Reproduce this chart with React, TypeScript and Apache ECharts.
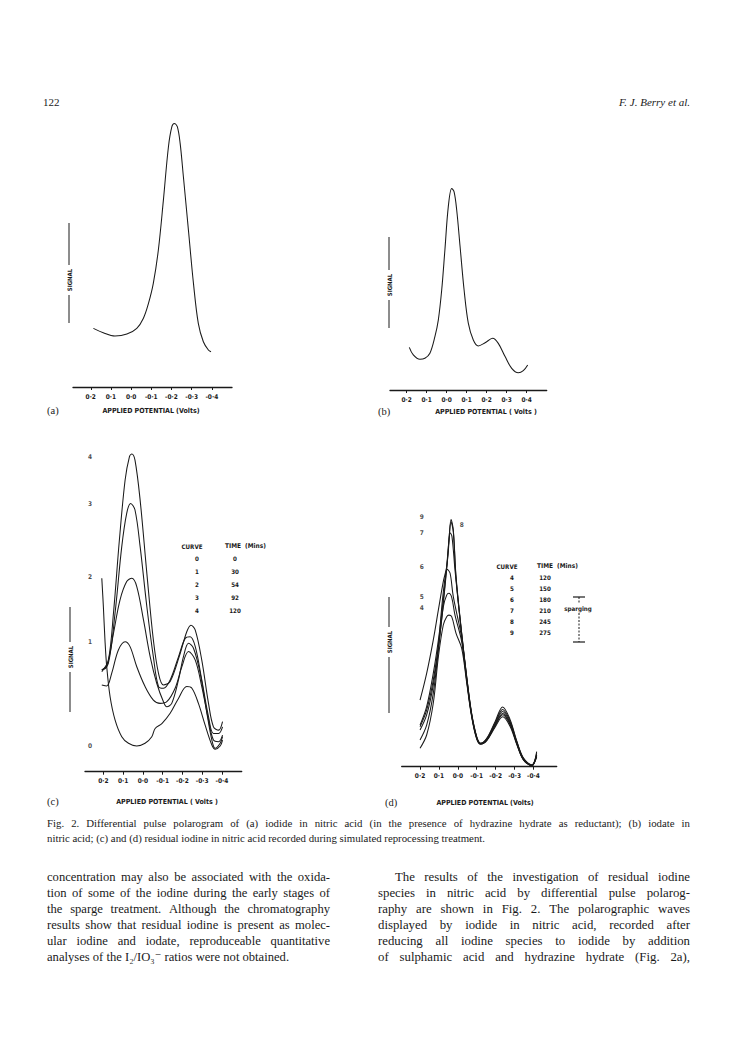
import React, { useEffect, useRef } from "react";
import * as echarts from "echarts";

// ---------------- data ----------------
const potentialTicks = [0.2, 0.1, 0, -0.1, -0.2, -0.3, -0.4];
const tickLabelsNeg = ["0·2", "0·1", "0·0", "-0·1", "-0·2", "-0·3", "-0·4"];
const tickLabelsB = ["0·2", "0·1", "0·0", "0·1", "0·2", "0·3", "0·4"];

// (a) iodide in nitric acid
const curveA = [
  [0.187, 2.14], [0.138, 1.98], [0.08, 1.86], [0.021, 1.93], [-0.028, 2.14],
  [-0.061, 2.51], [-0.086, 3.05], [-0.11, 3.78], [-0.135, 5.0], [-0.16, 6.82],
  [-0.185, 8.77], [-0.202, 9.5], [-0.214, 9.62], [-0.229, 9.5], [-0.243, 8.89],
  [-0.259, 7.68], [-0.284, 5.73], [-0.309, 3.78], [-0.333, 2.32], [-0.358, 1.65],
  [-0.383, 1.35], [-0.396, 1.29],
];

// (b) iodate in nitric acid
const curveB = [
  [0.187, 2.03], [0.167, 1.67], [0.134, 1.46], [0.109, 1.51], [0.084, 1.75],
  [0.059, 2.54], [0.042, 3.33], [0.025, 4.76], [0.009, 6.67], [-0.008, 8.73],
  [-0.025, 9.6], [-0.037, 9.44], [-0.05, 8.57], [-0.067, 6.82], [-0.087, 4.76],
  [-0.108, 3.18], [-0.133, 2.38], [-0.158, 2.1], [-0.192, 2.25], [-0.23, 2.46],
  [-0.258, 2.22], [-0.292, 1.59], [-0.325, 1.03], [-0.358, 0.82], [-0.383, 0.92],
  [-0.405, 1.19],
];

// (c) curves 0-4
const curveC0 = [
  [0.208, 5.86], [0.2, 5.0], [0.192, 3.99], [0.183, 3.18], [0.166, 2.27],
  [0.141, 1.57], [0.107, 1.06], [0.073, 0.86], [0.031, 0.78], [-0.011, 0.86],
  [-0.045, 1.06], [-0.062, 1.31], [-0.096, 1.46], [-0.138, 1.77], [-0.18, 2.22],
  [-0.222, 2.58], [-0.248, 2.53], [-0.281, 2.07], [-0.315, 1.41], [-0.349, 0.81],
  [-0.366, 0.68], [-0.391, 0.78], [-0.403, 0.96],
];
const curveC1 = [
  [0.208, 2.63], [0.183, 2.6], [0.158, 2.98], [0.124, 3.69], [0.09, 3.94],
  [0.065, 3.79], [0.031, 3.18], [-0.011, 2.58], [-0.053, 2.17], [-0.087, 2.07],
  [-0.121, 2.12], [-0.163, 2.53], [-0.197, 3.18], [-0.231, 3.64], [-0.265, 3.38],
  [-0.298, 2.58], [-0.332, 1.57], [-0.357, 0.96], [-0.383, 0.91], [-0.403, 1.11],
];
const curveC2 = [
  [0.208, 3.08], [0.183, 3.18], [0.149, 4.19], [0.116, 5.2], [0.082, 5.76],
  [0.056, 5.86], [0.031, 5.61], [-0.003, 4.6], [-0.037, 3.48], [-0.07, 2.68],
  [-0.104, 2.12], [-0.121, 1.97], [-0.146, 2.07], [-0.18, 2.78], [-0.205, 3.48],
  [-0.231, 3.89], [-0.256, 3.74], [-0.29, 2.98], [-0.324, 1.77], [-0.349, 0.96],
  [-0.366, 0.71], [-0.391, 0.86], [-0.403, 1.06],
];
const curveC3 = [
  [0.208, 3.08], [0.175, 3.28], [0.141, 4.8], [0.107, 6.82], [0.082, 7.83],
  [0.062, 8.13], [0.04, 7.93], [0.014, 6.82], [-0.02, 5.0], [-0.053, 3.48],
  [-0.079, 2.58], [-0.104, 2.53], [-0.138, 2.78], [-0.18, 3.48], [-0.214, 4.04],
  [-0.239, 4.09], [-0.265, 3.79], [-0.298, 2.78], [-0.332, 1.67], [-0.357, 1.16],
  [-0.383, 1.16], [-0.403, 1.36],
];
const curveC4 = [
  [0.208, 3.03], [0.175, 3.38], [0.149, 4.8], [0.119, 7.02], [0.09, 8.84],
  [0.068, 9.55], [0.056, 9.63], [0.04, 9.44], [0.014, 8.23], [-0.02, 6.01],
  [-0.053, 3.99], [-0.079, 2.98], [-0.104, 2.63], [-0.138, 2.73], [-0.189, 3.59],
  [-0.222, 4.24], [-0.243, 4.44], [-0.265, 4.29], [-0.298, 3.38], [-0.332, 2.07],
  [-0.357, 1.36], [-0.383, 1.26], [-0.403, 1.52],
];
const curveCLabelNames = ["4", "3", "2", "1", "0"];
const curveCLabelSignal = [9.55, 8.11, 5.89, 3.94, 0.78];
const curveCLabelPotential = 0.268;
const legendCCurve = ["0", "1", "2", "3", "4"];
const legendCTime = ["0", "30", "54", "92", "120"];

// (d) curves 4-9
const curveD9 = [
  [0.2, 2.56], [0.165, 3.59], [0.13, 4.87], [0.103, 6.03], [0.077, 7.12],
  [0.059, 7.69], [0.047, 8.72], [0.036, 9.51], [0.024, 9.1], [0.0095, 7.31],
  [-0.0205, 5.13], [-0.047, 3.46], [-0.073, 2.05], [-0.1, 1.15], [-0.121, 0.9],
  [-0.153, 1.09], [-0.197, 1.73], [-0.237, 2.3], [-0.276, 1.82], [-0.312, 0.98],
  [-0.347, 0.33], [-0.391, 0.06], [-0.417, 0.51],
];
const curveD8 = [
  [0.2, 1.6], [0.165, 2.31], [0.13, 3.59], [0.103, 4.87], [0.077, 6.41],
  [0.059, 7.69], [0.047, 8.72], [0.036, 9.41], [0.024, 9.04], [0.0095, 7.24],
  [-0.0205, 5.1], [-0.047, 3.44], [-0.073, 2.03], [-0.1, 1.14], [-0.121, 0.9],
  [-0.153, 1.07], [-0.197, 1.68], [-0.237, 2.2], [-0.276, 1.76], [-0.312, 0.96],
  [-0.347, 0.32], [-0.391, 0.07], [-0.417, 0.45],
];
const curveD7 = [
  [0.2, 1.54], [0.165, 2.18], [0.13, 3.33], [0.094, 5.13], [0.068, 6.92],
  [0.05, 8.33], [0.041, 9.0], [0.031, 8.85], [0.015, 7.56], [-0.0205, 5.05],
  [-0.047, 3.4], [-0.073, 2.0], [-0.1, 1.12], [-0.121, 0.89], [-0.153, 1.05],
  [-0.197, 1.64], [-0.237, 2.12], [-0.276, 1.7], [-0.312, 0.92], [-0.347, 0.3],
  [-0.391, 0.05], [-0.417, 0.4],
];
const curveD6 = [
  [0.2, 1.41], [0.165, 1.99], [0.13, 3.14], [0.103, 4.62], [0.085, 6.15],
  [0.068, 7.24], [0.056, 7.59], [0.041, 7.44], [0.024, 6.54], [-0.0205, 4.95],
  [-0.047, 3.35], [-0.073, 1.98], [-0.1, 1.1], [-0.121, 0.88], [-0.153, 1.03],
  [-0.197, 1.6], [-0.237, 2.05], [-0.276, 1.66], [-0.312, 0.9], [-0.347, 0.28],
  [-0.391, 0.04], [-0.417, 0.58],
];
const curveD5 = [
  [0.2, 1.03], [0.165, 1.6], [0.13, 2.82], [0.103, 4.49], [0.077, 6.15],
  [0.059, 6.6], [0.047, 6.67], [0.0325, 6.51], [0.015, 5.83], [-0.0205, 4.8],
  [-0.047, 3.3], [-0.073, 1.95], [-0.1, 1.08], [-0.121, 0.87], [-0.153, 1.02],
  [-0.197, 1.57], [-0.237, 2.0], [-0.276, 1.62], [-0.312, 0.88], [-0.347, 0.27],
  [-0.391, 0.05], [-0.417, 0.45],
];
const curveD4 = [
  [0.2, 0.71], [0.165, 1.22], [0.13, 2.44], [0.103, 4.23], [0.077, 5.45],
  [0.059, 5.77], [0.047, 5.83], [0.0325, 5.77], [0.0095, 5.13], [-0.0205, 4.55],
  [-0.047, 3.22], [-0.073, 1.92], [-0.1, 1.06], [-0.121, 0.86], [-0.153, 1.0],
  [-0.197, 1.52], [-0.237, 1.92], [-0.276, 1.56], [-0.312, 0.85], [-0.347, 0.26],
  [-0.391, 0.04], [-0.417, 0.38],
];
const curveDLabelNames = ["9", "7", "8", "6", "5", "4"];
const curveDLabelPos = [
  [0.191, 9.62], [0.191, 9.0], [-0.0205, 9.29], [0.191, 7.69], [0.191, 6.54], [0.191, 6.09],
];
const legendDCurve = ["4", "5", "6", "7", "8", "9"];
const legendDTime = ["120", "150", "180", "210", "245", "275"];

// page text
const headerLeft = "122";
const headerRight = "F. J. Berry et al.";
const captionLines = [
  "Fig. 2. Differential pulse polarogram of (a) iodide in nitric acid (in the presence of hydrazine hydrate as reductant); (b) iodate in",
  "nitric acid; (c) and (d) residual iodine in nitric acid recorded during simulated reprocessing treatment.",
];
const leftColumn = [
  "concentration may also be associated with the oxida-",
  "tion of some of the iodine during the early stages of",
  "the sparge treatment. Although the chromatography",
  "results show that residual iodine is present as molec-",
  "ular iodine and iodate, reproduceable quantitative",
  "analyses of the I\u2082/IO\u2083\u207B ratios were not obtained.",
];
const rightColumn = [
  "The results of the investigation of residual iodine",
  "species in nitric acid by differential pulse polarog-",
  "raphy are shown in Fig. 2. The polarographic waves",
  "displayed by iodide in nitric acid, recorded after",
  "reducing all iodine species to iodide by addition",
  "of sulphamic acid and hydrazine hydrate (Fig. 2a),",
];

// ---------------- styles ----------------
const INK = "#1a1a1a";
const SANS = "'DejaVu Sans Condensed', 'Liberation Sans Narrow', 'DejaVu Sans', sans-serif";
const SERIF = "'Liberation Serif', 'DejaVu Serif', serif";

const panels = [
  { grid: { left: 73, top: 113, width: 159, height: 274 }, min: -0.5, max: 0.288, labels: tickLabelsNeg },
  { grid: { left: 390, top: 180, width: 156.7, height: 210 }, min: -0.5, max: 0.2835, labels: tickLabelsB },
  { grid: { left: 85, top: 441.7, width: 156.7, height: 330 }, min: -0.5, max: 0.293, labels: tickLabelsNeg },
  { grid: { left: 401.7, top: 506.7, width: 155, height: 260 }, min: -0.523, max: 0.297, labels: tickLabelsNeg },
];

let measureCtx: CanvasRenderingContext2D | null = null;
function measure(text: string, font: string) {
  if (!measureCtx) measureCtx = document.createElement("canvas").getContext("2d");
  measureCtx!.font = font;
  return measureCtx!.measureText(text).width;
}

function txt(text: string, x: number, y: number, o: any = {}) {
  const style: any = {
    text,
    fill: o.fill || INK,
    fontSize: o.fontSize || 7,
    fontFamily: o.fontFamily || SANS,
    fontWeight: o.fontWeight || "normal",
    fontStyle: o.fontStyle || "normal",
    align: o.align || "left",
    verticalAlign: "middle",
    textAlign: o.align || "left",
    textVerticalAlign: "middle",
  };
  return { type: "text", x, y, rotation: o.rotation || 0, silent: true, style };
}

function line(x1: number, y1: number, x2: number, y2: number, o: any = {}) {
  return {
    type: "line",
    silent: true,
    shape: { x1, y1, x2, y2 },
    style: { stroke: INK, lineWidth: o.lineWidth || 1, lineDash: o.lineDash || null },
  };
}

function paragraphLine(text: string, x0: number, x1: number, y: number, size: number, justify: boolean) {
  const font = `${size}px ${SERIF}`;
  if (!justify) return [txt(text, x0, y, { fontSize: size, fontFamily: SERIF })];
  const words = text.split(" ");
  const widths = words.map((w) => measure(w, font));
  const total = widths.reduce((a, b) => a + b, 0);
  const gap = (x1 - x0 - total) / (words.length - 1);
  const out: any[] = [];
  let x = x0;
  words.forEach((w, i) => {
    out.push(txt(w, x, y, { fontSize: size, fontFamily: SERIF }));
    x += widths[i] + gap;
  });
  return out;
}

function signalLabel(x: number, y1: number, y2: number, yc: number) {
  return [
    line(x, y1, x, yc - 15),
    line(x, yc + 15, x, y2),
    txt("SIGNAL", x, yc, { rotation: Math.PI / 2, align: "center", fontSize: 6, fontWeight: "bold" }),
  ];
}

function buildOption() {
  const xAxis = panels.map((p, i) => ({
    type: "value",
    gridIndex: i,
    min: p.min,
    max: p.max,
    inverse: true,
    axisLine: { show: true, onZero: false, lineStyle: { color: INK, width: 1.3 } },
    axisTick: { show: true, customValues: potentialTicks, length: 3, lineStyle: { color: INK, width: 1 } },
    axisLabel: {
      show: true,
      customValues: potentialTicks,
      margin: 6,
      fontSize: 6.5,
      fontWeight: "bold",
      fontFamily: SANS,
      color: INK,
      formatter: (v: number) => {
        const idx = potentialTicks.findIndex((t) => Math.abs(t - v) < 1e-6);
        return idx >= 0 ? p.labels[idx] : "";
      },
    },
    splitLine: { show: false },
  }));
  const yAxis = panels.map((_, i) => ({ type: "value", gridIndex: i, min: 0, max: 10, show: false }));

  const curve = (data: number[][], idx: number) => ({
    type: "line",
    xAxisIndex: idx,
    yAxisIndex: idx,
    data,
    smooth: 0.35,
    symbol: "none",
    silent: true,
    lineStyle: { color: INK, width: 1.05 },
  });

  const labelSeries = (data: any[], idx: number) => ({
    type: "scatter",
    xAxisIndex: idx,
    yAxisIndex: idx,
    data,
    symbolSize: 1,
    silent: true,
    itemStyle: { color: "rgba(0,0,0,0)" },
    label: {
      show: true,
      position: "inside",
      formatter: "{b}",
      fontSize: 6.5,
      fontWeight: "bold",
      fontFamily: SANS,
      color: INK,
    },
  });

  const series: any[] = [
    curve(curveA, 0),
    curve(curveB, 1),
    curve(curveC0, 2),
    curve(curveC1, 2),
    curve(curveC2, 2),
    curve(curveC3, 2),
    curve(curveC4, 2),
    curve(curveD4, 3),
    curve(curveD5, 3),
    curve(curveD6, 3),
    curve(curveD7, 3),
    curve(curveD8, 3),
    curve(curveD9, 3),
    labelSeries(
      curveCLabelNames.map((n, i) => ({ name: n, value: [curveCLabelPotential, curveCLabelSignal[i]] })),
      2
    ),
    labelSeries(curveDLabelNames.map((n, i) => ({ name: n, value: curveDLabelPos[i] })), 3),
  ];

  const g: any[] = [];
  // header
  g.push(txt(headerLeft, 43, 102, { fontSize: 11, fontFamily: SERIF }));
  g.push(txt(headerRight, 690, 102, { fontSize: 11, fontFamily: SERIF, fontStyle: "italic", align: "right" }));

  // panel captions
  const panelText = [
    { tag: "(a)", tx: 47, label: "APPLIED POTENTIAL (Volts)", lx: 151, y: 410 },
    { tag: "(b)", tx: 378, label: "APPLIED POTENTIAL ( Volts )", lx: 486, y: 411 },
    { tag: "(c)", tx: 47, label: "APPLIED POTENTIAL ( Volts )", lx: 167, y: 801 },
    { tag: "(d)", tx: 385, label: "APPLIED POTENTIAL (Volts)", lx: 485, y: 802 },
  ];
  panelText.forEach((p) => {
    g.push(txt(p.tag, p.tx, p.y, { fontSize: 10.5, fontFamily: SERIF }));
    g.push(txt(p.label, p.lx, p.y + 1, { fontSize: 7, fontWeight: "bold", align: "center" }));
  });

  // SIGNAL labels
  g.push(...signalLabel(69, 223, 323, 280));
  g.push(...signalLabel(389, 237, 328, 285));
  g.push(...signalLabel(70, 607, 712, 657));
  g.push(...signalLabel(389, 597, 713, 642));

  // legend (c)
  g.push(txt("CURVE", 192, 546, { fontSize: 6.2, fontWeight: "bold", align: "center" }));
  g.push(txt("TIME  (Mins)", 225, 546, { fontSize: 6.5, fontWeight: "bold" }));
  legendCCurve.forEach((c, i) => {
    const y = 558 + 13 * i;
    g.push(txt(c, 197, y, { fontSize: 6.2, fontWeight: "bold", align: "center" }));
    g.push(txt(legendCTime[i], 235, y, { fontSize: 6.2, fontWeight: "bold", align: "center" }));
  });

  // legend (d)
  g.push(txt("CURVE", 507, 566, { fontSize: 6.2, fontWeight: "bold", align: "center" }));
  g.push(txt("TIME  (Mins)", 537, 566, { fontSize: 6.5, fontWeight: "bold" }));
  legendDCurve.forEach((c, i) => {
    const y = 577 + 11.1 * i;
    g.push(txt(c, 512, y, { fontSize: 6.2, fontWeight: "bold", align: "center" }));
    g.push(txt(legendDTime[i], 545, y, { fontSize: 6.2, fontWeight: "bold", align: "center" }));
  });
  // sparging bracket
  g.push(line(573, 597, 585, 597, { lineWidth: 1.2 }));
  g.push(line(579, 597, 579, 603, { lineDash: [2, 1.5] }));
  g.push(txt("sparging", 578, 608, { fontSize: 6.2, fontWeight: "bold", align: "center" }));
  g.push(line(579, 613, 579, 642, { lineDash: [2, 1.5] }));
  g.push(line(573, 642, 585, 642, { lineWidth: 1.2 }));

  // caption
  g.push(...paragraphLine(captionLines[0], 47, 690, 823, 10.8, true));
  g.push(...paragraphLine(captionLines[1], 47, 690, 838, 10.8, false));

  // body columns
  leftColumn.forEach((l, i) => {
    g.push(...paragraphLine(l, 47, 330, 877 + 16 * i, 12.6, i < leftColumn.length - 1));
  });
  rightColumn.forEach((l, i) => {
    g.push(...paragraphLine(l, i === 0 ? 395 : 378, 690, 877 + 16 * i, 12.8, true));
  });

  return {
    animation: false,
    backgroundColor: "#ffffff",
    grid: panels.map((p) => ({ ...p.grid, containLabel: false })),
    xAxis,
    yAxis,
    series,
    graphic: { elements: g },
  };
}

export default function App() {
  const ref = useRef<HTMLDivElement>(null);
  useEffect(() => {
    if (!ref.current) return;
    const chart = echarts.init(ref.current, undefined, { renderer: "svg" });
    chart.setOption(buildOption() as any);
    return () => chart.dispose();
  }, []);
  return (
    <div
      ref={ref}
      style={{ position: "absolute", left: 0, top: 0, width: 737, height: 1056, background: "#fff" }}
    />
  );
}
